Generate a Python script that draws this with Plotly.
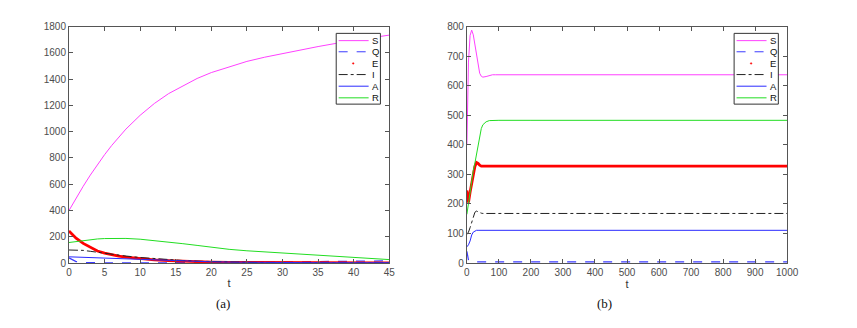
import plotly.graph_objects as go

# ---------- (a) 短时间 t: 0-45 ----------
t_a = [0, 1, 2, 3, 4, 5, 6, 7, 8, 10, 12, 14, 16, 18, 20, 22.5, 25, 27.5, 30, 32.5, 35, 37.5, 40, 42.5, 45]
S_a = [400, 495, 585, 670, 750, 825, 895, 960, 1020, 1125, 1215, 1290, 1350, 1405, 1450, 1495, 1535, 1567, 1595, 1622, 1648, 1672, 1695, 1715, 1735]
Q_a = [40, 12, 4, 3, 2, 2, 2, 2, 2, 2, 2, 2, 2, 2, 3, 4, 6, 8, 10, 12, 13, 14, 15, 16, 17]
E_a = [245, 190, 150, 118, 92, 76, 63, 53, 45, 33, 25, 19, 14, 11, 8, 6, 5, 4, 3, 3, 2, 2, 2, 2, 2]
I_a = [100, 99, 97, 90, 82, 74, 67, 60, 54, 43, 34, 26, 20, 15, 11, 8, 6, 4, 3, 2, 2, 1, 1, 1, 1]
A_a = [48, 46, 45, 42, 40, 38, 35, 33, 30, 26, 22, 18, 15, 12, 10, 8, 6, 5, 4, 3, 3, 3, 3, 3, 3]
R_a = [157, 165, 172, 178, 184, 187, 189, 189, 188, 182, 172, 160, 148, 135, 121, 105, 94, 85, 77, 68, 60, 52, 43, 35, 27]

# ---------- (b) 长时间 t: 0-1000 ----------
t_b = [0, 5, 10, 15, 20, 25, 30, 35, 40, 45, 50, 60, 70, 80, 90, 100, 200, 300, 400, 500, 600, 700, 800, 900, 1000]
S_b = [400, 680, 770, 788, 772, 738, 698, 665, 642, 632, 629, 631, 635, 637, 637, 637, 637, 637, 637, 637, 637, 637, 637, 637, 637]
Q_b = [40, 10, 7, 5, 5, 4, 4, 4, 4, 4, 4, 4, 4, 4, 4, 4, 4, 4, 4, 4, 4, 4, 4, 4, 4]
E_b = [246, 205, 240, 270, 300, 327, 340, 337, 331, 328, 328, 328, 328, 328, 328, 328, 328, 328, 328, 328, 328, 328, 328, 328, 328]
I_b = [97, 105, 120, 140, 158, 172, 176, 173, 170, 169, 168, 168, 168, 168, 168, 168, 168, 168, 168, 168, 168, 168, 168, 168, 168]
A_b = [55, 62, 75, 95, 105, 109, 111, 111, 111, 111, 111, 111, 110, 109, 111, 111, 111, 111, 111, 111, 111, 111, 111, 111, 111]
R_b = [165, 205, 245, 280, 313, 338, 370, 405, 432, 455, 468, 478, 482, 483, 483, 483, 483, 483, 483, 483, 483, 483, 483, 483, 483]

names = ["S", "Q", "E", "I", "A", "R"]

W, H = 857, 328
FONT = "Liberation Sans, Arial, sans-serif"
SERIF = "Liberation Serif, Times New Roman, serif"


def px(x):
    return x / W


def py(y):
    return 1 - y / H


styles = {
    "S": dict(color="#ff40ff", width=1),
    "Q": dict(color="#3b3bff", width=1.2, dash="dash"),
    "E": dict(color="#ff0000", width=2.8),
    "I": dict(color="#222222", width=1, dash="dashdot"),
    "A": dict(color="#2a2aff", width=1),
    "R": dict(color="#22dd22", width=1),
}

fig = go.Figure()


def add_panel(t, series, xa, ya):
    for name, y in zip(names, series):
        fig.add_trace(go.Scatter(x=t, y=y, mode="lines", name=name, line=styles[name],
                                 xaxis=xa, yaxis=ya, showlegend=False, hoverinfo="skip"))


add_panel(t_a, [S_a, Q_a, E_a, I_a, A_a, R_a], "x", "y")
add_panel(t_b, [S_b, Q_b, E_b, I_b, A_b, R_b], "x2", "y2")

# ---------- 手工图例（MATLAB 风格，紧凑） ----------
shapes, annotations = [], []
row_y = [28.5, 40, 52, 63.5, 75.5, 87.5]
for x0 in (331, 736):
    shapes.append(dict(type="rect", xref="paper", yref="paper",
                       x0=px(x0), x1=px(x0 + 45), y0=py(94), y1=py(21),
                       line=dict(color="#333333", width=1), fillcolor="white", layer="above"))
    for name, ry in zip(names, row_y):
        st = styles[name]
        if name == "E":
            shapes.append(dict(type="circle", xref="paper", yref="paper",
                               x0=px(x0 + 16.5), x1=px(x0 + 18.1), y0=py(ry + 0.8), y1=py(ry - 0.8),
                               line=dict(color="#ff0000", width=0.5), fillcolor="#ff0000",
                               layer="above"))
        else:
            ln = dict(color=st["color"], width=1)
            if "dash" in st:
                ln["dash"] = st["dash"]
            shapes.append(dict(type="line", xref="paper", yref="paper",
                               x0=px(x0 + 2.5), x1=px(x0 + 33), y0=py(ry), y1=py(ry),
                               line=ln, layer="above"))
        annotations.append(dict(text=name, x=px(x0 + 35), y=py(ry), xref="paper", yref="paper",
                                xanchor="left", yanchor="middle", showarrow=False, borderpad=0,
                                font=dict(size=9.5, color="#111111", family=FONT)))

for label, cx in (("(a)", 207), ("(b)", 614)):
    annotations.append(dict(text=label, x=px(cx), y=py(309), xref="paper", yref="paper",
                            showarrow=False, font=dict(family=SERIF, size=13, color="#111111")))

axis_style = dict(showgrid=False, zeroline=False, showline=True, linecolor="#555555",
                  linewidth=1, mirror="ticks", ticks="inside", ticklen=4,
                  tickcolor="#555555", tickfont=dict(size=10, color="#4d4d4d", family=FONT))
t_title = dict(text="t", font=dict(size=11, color="#333333", family=FONT), standoff=2)
y_dom = [py(258), py(14)]

fig.update_layout(
    width=W, height=H,
    margin=dict(l=0, r=0, t=0, b=0),
    paper_bgcolor="white", plot_bgcolor="white",
    font=dict(family=FONT),
    showlegend=False,
    xaxis=dict(domain=[px(59), px(385)], range=[0, 45], tickvals=list(range(0, 46, 5)),
               title=t_title, anchor="y", **axis_style),
    yaxis=dict(domain=y_dom, range=[0, 1800], tickvals=list(range(0, 1801, 200)),
               anchor="x", **axis_style),
    xaxis2=dict(domain=[px(464), px(790)], range=[0, 1000], tickvals=list(range(0, 1001, 100)),
                title=t_title, anchor="y2", **axis_style),
    yaxis2=dict(domain=y_dom, range=[0, 800], tickvals=list(range(0, 801, 100)),
                anchor="x2", **axis_style),
    shapes=shapes,
    annotations=annotations,
)

fig.write_html("out.html")
